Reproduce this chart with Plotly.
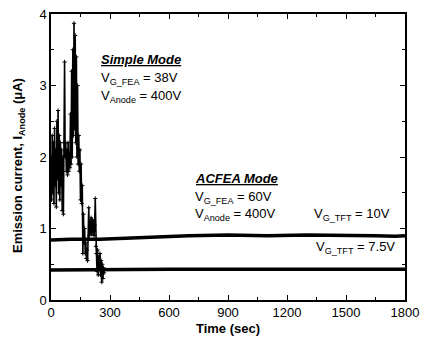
import plotly.graph_objects as go

# Simple mode (noisy) emission current
simple_t = [0, 3, 6, 9, 12, 15, 18, 21, 24, 27, 30, 33, 36, 39, 42, 45, 48, 51, 54, 57,
            60, 63, 66, 69, 72, 75, 78, 81, 84, 87, 90, 93, 96, 99, 102, 105, 108, 111, 114, 117,
            120, 123, 126, 129, 132, 135, 138, 141, 144, 147, 150, 153, 156, 159, 162, 165, 168, 171, 174, 177,
            180, 183, 186, 189, 192, 195, 198, 201, 204, 207, 210, 213, 216, 219, 222, 225, 228, 231, 234, 237,
            240, 243, 246, 249, 252, 255, 258, 261, 264, 267, 270]
simple_i = [2.0, 1.4, 2.3, 1.5, 2.2, 1.35, 2.4, 1.6, 2.1, 1.3, 2.5, 1.7, 2.65, 1.5, 2.3, 1.4, 2.2, 1.6, 2.1, 1.25,
            2.0, 1.2, 2.2, 3.33, 2.0, 2.2, 1.8, 2.1, 1.75, 2.2, 1.8, 2.05, 1.85, 2.6, 1.9, 3.2, 2.0, 3.5, 2.3, 3.87,
            2.4, 3.7, 2.2, 3.4, 2.0, 3.0, 1.9, 2.3, 1.8, 2.1, 1.4, 1.9, 1.35, 1.6, 0.65, 1.2, 0.8, 1.0, 0.65, 0.8,
            0.58, 0.7, 0.55, 0.85, 1.29, 0.9, 1.1, 0.95, 1.15, 0.92, 1.12, 0.95, 1.1, 0.9, 1.05, 1.42, 0.75, 0.65, 0.4, 0.7,
            0.35, 0.6, 0.45, 0.65, 0.35, 0.55, 0.25, 0.5, 0.3, 0.45, 0.38]

# ACFEA mode, V_G_TFT = 10 V
tft10_t = [0, 100, 250, 400, 550, 700, 900, 1100, 1300, 1500, 1650, 1750, 1800]
tft10_i = [0.84, 0.85, 0.85, 0.87, 0.88, 0.90, 0.91, 0.90, 0.91, 0.91, 0.90, 0.89, 0.90]

# ACFEA mode, V_G_TFT = 7.5 V
tft75_t = [0, 300, 600, 900, 1200, 1500, 1800]
tft75_i = [0.42, 0.43, 0.43, 0.43, 0.43, 0.43, 0.43]

x_ticks = [0, 300, 600, 900, 1200, 1500, 1800]
y_ticks = [0, 1, 2, 3, 4]

FONT = "Arial, Liberation Sans, sans-serif"

fig = go.Figure()
fig.add_trace(go.Scatter(x=simple_t, y=simple_i, mode="lines+markers",
                         line=dict(color="black", width=1.6),
                         marker=dict(color="black", size=3, symbol="cross-thin",
                                     line=dict(color="black", width=1)),
                         showlegend=False))
fig.add_trace(go.Scatter(x=tft10_t, y=tft10_i, mode="lines",
                         line=dict(color="black", width=3.5), showlegend=False))
fig.add_trace(go.Scatter(x=tft75_t, y=tft75_i, mode="lines",
                         line=dict(color="black", width=3.5), showlegend=False))

ann_font = dict(family=FONT, size=13, color="black")
annotations = [
    dict(x=245, y=3.36, text="<u><b><i>Simple Mode</i></b></u>"),
    dict(x=245, y=3.10, text="V<sub>G_FEA</sub> = 38V"),
    dict(x=245, y=2.84, text="V<sub>Anode</sub> = 400V"),
    dict(x=720, y=1.70, text="<u><b><i>ACFEA Mode</i></b></u>"),
    dict(x=720, y=1.43, text="V<sub>G_FEA</sub> = 60V"),
    dict(x=720, y=1.19, text="V<sub>Anode</sub> = 400V"),
    dict(x=1325, y=1.19, text="V<sub>G_TFT</sub> = 10V"),
    dict(x=1335, y=0.73, text="V<sub>G_TFT</sub> = 7.5V"),
]
for a in annotations:
    fig.add_annotation(xref="x", yref="y", xanchor="left", yanchor="middle",
                       showarrow=False, font=ann_font, **a)

# y-axis title drawn as a rotated annotation so it can sit close to the page edge
fig.add_annotation(xref="paper", yref="paper", x=-0.092, y=0.47,
                   xanchor="center", yanchor="middle", textangle=-90, showarrow=False,
                   text="<b>Emission current, I<sub>Anode</sub> (μA)</b>",
                   font=dict(family=FONT, size=13, color="black"))

axis_common = dict(showline=True, linecolor="black", linewidth=1.5, mirror="ticks",
                   ticks="inside", ticklen=5, tickwidth=1.2, tickcolor="black",
                   showgrid=False, zeroline=False, automargin=False,
                   tickfont=dict(family=FONT, size=13, color="black"))

fig.update_xaxes(range=[0, 1800], tickvals=x_ticks,
                 minor=dict(ticks="inside", ticklen=3, tickcolor="black", dtick=150, tick0=0, showgrid=False),
                 title=dict(text="<b>Time (sec)</b>", font=dict(family=FONT, size=13, color="black"), standoff=5),
                 **axis_common)
fig.update_yaxes(range=[0, 4], tickvals=y_ticks,
                 minor=dict(ticks="inside", ticklen=3, tickcolor="black", dtick=0.5, tick0=0, showgrid=False),
                 **axis_common)

fig.update_layout(width=422, height=347, margin=dict(l=51, r=17, t=14, b=47),
                  paper_bgcolor="white", plot_bgcolor="white",
                  font=dict(family=FONT, color="black"))

# remove the browser's default 8px body margin so the figure fills the window
fig.write_html("out.html", config={"displayModeBar": False},
               post_script="document.body.style.margin='0px';document.body.style.overflow='hidden';")
